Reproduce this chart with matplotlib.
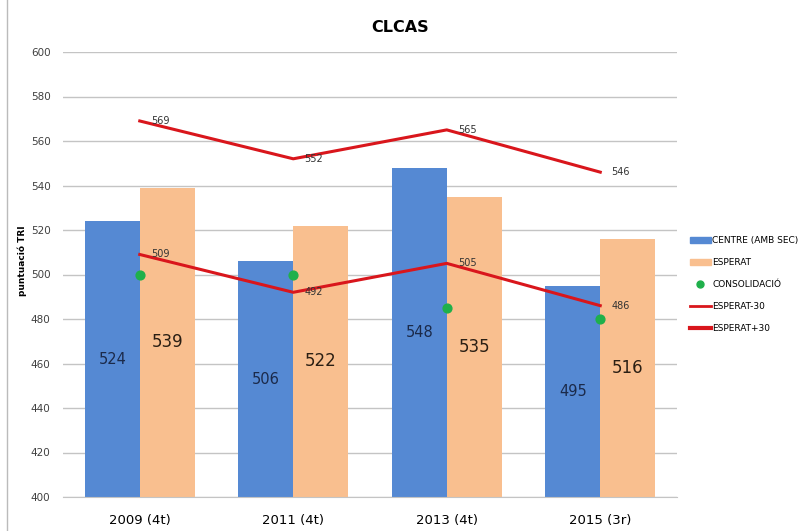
import matplotlib
matplotlib.use("Agg")
import matplotlib.pyplot as plt
from matplotlib.lines import Line2D
from matplotlib.patches import Patch
import numpy as np

categories = ["2009 (4t)", "2011 (4t)", "2013 (4t)", "2015 (3r)"]
centre = [524, 506, 548, 495]
esperat = [539, 522, 535, 516]
consolidacio = [500, 500, 485, 480]
esperat_m30 = [509, 492, 505, 486]
esperat_p30 = [569, 552, 565, 546]
yticks = list(range(400, 601, 20))

blue = "#5589D3"
orange = "#F9BF8F"
red = "#D9161C"
green = "#1FB04B"
grid = "#C4C4C4"

fig = plt.figure(figsize=(8.01, 5.31), dpi=100)
ax = fig.add_axes([63/801, 1-497/531, 614/801, (497-52)/531])

x = np.arange(len(categories))
w = 0.357
ax.bar(x - w/2, centre, w, color=blue, zorder=2)
ax.bar(x + w/2, esperat, w, color=orange, zorder=2)

for xi, v in zip(x, centre):
    ax.text(xi - w/2, (400 + v)/2, str(v), ha="center", va="center",
            fontsize=10.5, color="#1B2A4A", zorder=5)
for xi, v in zip(x, esperat):
    ax.text(xi + w/2, (400 + v)/2, str(v), ha="center", va="center",
            fontsize=12, color="#2B1F14", zorder=5)

ax.plot(x, esperat_m30, color=red, lw=2.2, zorder=3)
ax.plot(x, esperat_p30, color=red, lw=2.2, zorder=3)
for xi, v in zip(x, esperat_m30):
    ax.annotate(str(v), (xi, v), xytext=(8, 0), textcoords="offset points",
                fontsize=7, color="#333333", va="center", zorder=5)
for xi, v in zip(x, esperat_p30):
    ax.annotate(str(v), (xi, v), xytext=(8, 0), textcoords="offset points",
                fontsize=7, color="#333333", va="center", zorder=5)

ax.scatter(x, consolidacio, s=40, color=green, zorder=4)

ax.set_xlim(-0.5, 3.5)
ax.set_ylim(400, 600)
ax.set_yticks(yticks)
ax.set_xticks(x)
ax.set_xticklabels(categories, fontsize=9.5)
ax.tick_params(axis="y", labelsize=7.5, colors="#404040", length=0, pad=9)
ax.tick_params(axis="x", length=0, pad=12)
ax.grid(axis="y", color=grid, lw=1, zorder=0)
ax.set_axisbelow(True)
for s in ["top", "right", "left"]:
    ax.spines[s].set_visible(False)
ax.spines["bottom"].set_color(grid)
ax.set_ylabel("puntuació TRI", fontsize=6.5, fontweight="bold")
ax.yaxis.set_label_coords(-0.059, 0.53)

fig.text(400/801, 1-28/531, "CLCAS", ha="center", va="center",
         fontsize=11.5, fontweight="bold")

handles = [
    Patch(color=blue, label="CENTRE (AMB SEC)"),
    Patch(color=orange, label="ESPERAT"),
    Line2D([], [], marker="o", color=green, ls="none", markersize=5, label="CONSOLIDACIÓ"),
    Line2D([], [], color=red, lw=2, label="ESPERAT-30"),
    Line2D([], [], color=red, lw=3, label="ESPERAT+30"),
]
fig.legend(handles=handles, loc="upper left", bbox_to_anchor=(690/801, 1-236/531),
           frameon=False, fontsize=6.5, handlelength=2.3, handletextpad=0.15,
           labelspacing=1.45, borderaxespad=0, borderpad=0)

fig.add_artist(Line2D([7/801, 7/801], [0, 1], color="#BBBBBB", lw=1,
                      transform=fig.transFigure))

fig.savefig("out.png", dpi=100)
